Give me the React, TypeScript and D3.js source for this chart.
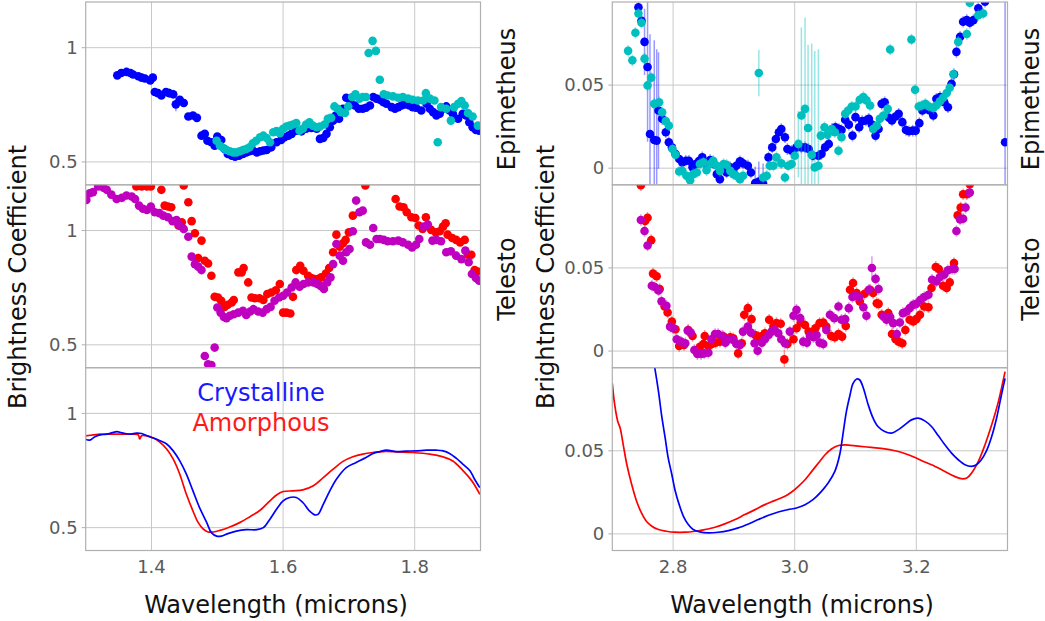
import React from "react";
import * as d3 from "d3";

type P = [number, number, number?];

// ---------- tick labels ----------
const nirXTicks = [1.4, 1.6, 1.8];
const nirXTickLabels = ["1.4", "1.6", "1.8"];
const nirYTicks = [0.5, 1];
const nirYTickLabels = ["0.5", "1"];
const midXTicks = [2.8, 3.0, 3.2];
const midXTickLabels = ["2.8", "3.0", "3.2"];
const midYTicks = [0, 0.05];
const midYTickLabels = ["0", "0.05"];

const moonNames = ["Epimetheus", "Telesto"];
const legendNames = ["Crystalline", "Amorphous"];

// ---------- Epimetheus 1.3-1.9 um ----------
const epiBlueNIR: P[] = [
  [1.348, 0.879], [1.354, 0.889], [1.362, 0.894], [1.368, 0.889], [1.372, 0.883], [1.38, 0.875], [1.385, 0.869],
  [1.39, 0.865], [1.398, 0.857], [1.402, 0.869], [1.405, 0.806], [1.41, 0.801], [1.415, 0.791], [1.422, 0.806, 0.015],
  [1.427, 0.801, 0.02], [1.433, 0.796, 0.02], [1.437, 0.752, 0.03], [1.443, 0.772], [1.449, 0.758], [1.456, 0.699],
  [1.463, 0.703], [1.469, 0.693], [1.476, 0.615], [1.481, 0.623], [1.485, 0.593], [1.491, 0.586], [1.496, 0.571],
  [1.5, 0.611], [1.506, 0.596], [1.511, 0.557], [1.516, 0.535], [1.522, 0.527], [1.527, 0.523], [1.533, 0.527],
  [1.539, 0.535], [1.544, 0.542], [1.549, 0.547], [1.554, 0.55], [1.56, 0.542], [1.565, 0.547], [1.57, 0.55],
  [1.575, 0.552], [1.582, 0.564], [1.59, 0.586], [1.597, 0.596], [1.602, 0.608], [1.608, 0.615], [1.613, 0.623],
  [1.62, 0.637], [1.628, 0.634], [1.635, 0.645], [1.643, 0.649], [1.651, 0.645], [1.656, 0.601], [1.661, 0.605],
  [1.666, 0.623], [1.671, 0.652], [1.676, 0.681], [1.68, 0.703], [1.685, 0.689], [1.691, 0.733], [1.696, 0.781],
  [1.702, 0.769], [1.709, 0.747], [1.715, 0.733], [1.721, 0.733], [1.726, 0.737], [1.732, 0.747], [1.737, 0.784],
  [1.742, 0.777], [1.747, 0.772], [1.752, 0.762], [1.757, 0.755], [1.765, 0.74], [1.77, 0.733], [1.775, 0.74],
  [1.78, 0.747], [1.785, 0.752], [1.792, 0.747], [1.797, 0.74], [1.802, 0.737], [1.81, 0.725], [1.818, 0.755],
  [1.823, 0.733], [1.828, 0.718], [1.833, 0.703], [1.838, 0.711], [1.843, 0.733], [1.848, 0.743], [1.853, 0.725],
  [1.858, 0.711], [1.866, 0.689], [1.873, 0.711], [1.878, 0.703], [1.883, 0.674], [1.888, 0.652], [1.893, 0.64],
  [1.898, 0.637],
];
const epiCyanNIR: P[] = [
  [1.499, 0.593], [1.504, 0.571], [1.509, 0.561], [1.514, 0.552], [1.519, 0.547], [1.524, 0.542], [1.529, 0.542],
  [1.534, 0.547], [1.539, 0.552], [1.544, 0.557], [1.549, 0.564], [1.554, 0.582], [1.559, 0.593], [1.565, 0.608],
  [1.57, 0.615], [1.575, 0.605], [1.58, 0.586], [1.585, 0.63], [1.59, 0.635], [1.595, 0.626], [1.6, 0.645],
  [1.605, 0.655], [1.61, 0.659], [1.615, 0.664], [1.62, 0.67], [1.625, 0.637], [1.63, 0.645], [1.635, 0.664],
  [1.64, 0.674], [1.645, 0.659], [1.651, 0.652], [1.656, 0.655], [1.663, 0.664], [1.668, 0.689], [1.673, 0.693],
  [1.678, 0.743], [1.683, 0.733], [1.688, 0.718], [1.694, 0.714], [1.699, 0.743], [1.705, 0.784], [1.71, 0.796],
  [1.716, 0.777], [1.721, 0.784], [1.726, 0.784], [1.73, 0.977], [1.736, 1.03], [1.741, 0.986], [1.747, 0.86],
  [1.753, 0.796], [1.759, 0.791], [1.767, 0.787], [1.775, 0.781], [1.782, 0.784], [1.79, 0.777], [1.797, 0.772],
  [1.805, 0.769], [1.813, 0.769], [1.817, 0.801], [1.823, 0.777], [1.83, 0.769], [1.835, 0.586], [1.84, 0.74],
  [1.848, 0.733], [1.855, 0.681], [1.86, 0.74], [1.866, 0.755], [1.871, 0.766], [1.876, 0.747], [1.881, 0.714],
  [1.888, 0.699], [1.896, 0.659],
];

// ---------- Telesto 1.3-1.9 um ----------
const telRedNIR: P[] = [
  [1.377, 1.193], [1.385, 1.193], [1.393, 1.193], [1.399, 1.193], [1.415, 1.178], [1.42, 1.109], [1.425, 1.105],
  [1.43, 1.102], [1.441, 1.022], [1.446, 1.036], [1.449, 1.197], [1.456, 1.124], [1.461, 1.041], [1.466, 0.988],
  [1.471, 0.88], [1.476, 0.956], [1.481, 0.868], [1.486, 0.856], [1.491, 0.802], [1.496, 0.71], [1.501, 0.707],
  [1.506, 0.693], [1.511, 0.666], [1.516, 0.675], [1.522, 0.685], [1.525, 0.696], [1.532, 0.817], [1.537, 0.817],
  [1.54, 0.836], [1.547, 0.773], [1.552, 0.707], [1.557, 0.704], [1.564, 0.704], [1.57, 0.696], [1.576, 0.722],
  [1.582, 0.729], [1.589, 0.739], [1.595, 0.766], [1.6, 0.641], [1.605, 0.641], [1.611, 0.637], [1.615, 0.71],
  [1.62, 0.827], [1.626, 0.846], [1.631, 0.824], [1.638, 0.802], [1.643, 0.792], [1.648, 0.788], [1.653, 0.788],
  [1.658, 0.795], [1.665, 0.812], [1.67, 0.836], [1.676, 0.905], [1.681, 0.982], [1.686, 0.929], [1.691, 0.944],
  [1.695, 0.959], [1.7, 0.992], [1.706, 1.065], [1.725, 1.197], [1.771, 1.138], [1.777, 1.105], [1.783, 1.102],
  [1.788, 1.08], [1.795, 1.058], [1.801, 1.055], [1.806, 1.022], [1.812, 1.007], [1.817, 1.058], [1.825, 1.003],
  [1.832, 0.992], [1.838, 0.997], [1.843, 1.017], [1.847, 1.032], [1.85, 0.982], [1.857, 0.967], [1.863, 0.959],
  [1.869, 0.948], [1.876, 0.959], [1.881, 0.894], [1.886, 0.894], [1.891, 0.827], [1.896, 0.821],
];
const telMagNIR: P[] = [
  [1.301, 1.134], [1.306, 1.163], [1.311, 1.168], [1.319, 1.193], [1.327, 1.187], [1.332, 1.178], [1.339, 1.157],
  [1.347, 1.138], [1.355, 1.143], [1.362, 1.153], [1.37, 1.149], [1.375, 1.138], [1.381, 1.109], [1.387, 1.095],
  [1.393, 1.09], [1.399, 1.105], [1.405, 1.08], [1.412, 1.076], [1.418, 1.065], [1.425, 1.058], [1.432, 1.041],
  [1.438, 1.046], [1.443, 1.021], [1.449, 1.007], [1.456, 0.973], [1.461, 0.886], [1.466, 0.853], [1.471, 0.842],
  [1.476, 0.827], [1.481, 0.451], [1.486, 0.415], [1.491, 0.412], [1.496, 0.488], [1.5, 0.663], [1.505, 0.641],
  [1.51, 0.622], [1.514, 0.617], [1.519, 0.627], [1.525, 0.634], [1.532, 0.641], [1.539, 0.649], [1.544, 0.631],
  [1.55, 0.646], [1.555, 0.656], [1.562, 0.646], [1.569, 0.641], [1.575, 0.656], [1.581, 0.666], [1.587, 0.693],
  [1.594, 0.707], [1.6, 0.715], [1.606, 0.729], [1.613, 0.751], [1.619, 0.773], [1.625, 0.754], [1.631, 0.766],
  [1.638, 0.773], [1.646, 0.773], [1.652, 0.766], [1.657, 0.758], [1.662, 0.744], [1.667, 0.773], [1.672, 0.795],
  [1.676, 0.853], [1.681, 0.941], [1.686, 0.89], [1.691, 0.868], [1.696, 0.905], [1.701, 0.919], [1.706, 0.997],
  [1.711, 1.131], [1.716, 1.08], [1.721, 1.087], [1.726, 0.948], [1.732, 0.938], [1.737, 1.011], [1.742, 0.963],
  [1.747, 0.963], [1.753, 0.959], [1.759, 0.953], [1.767, 0.953], [1.775, 0.956], [1.782, 0.948], [1.79, 0.938],
  [1.796, 0.926], [1.802, 0.938], [1.807, 0.963], [1.814, 1.017], [1.82, 1.026], [1.827, 0.956], [1.833, 0.959],
  [1.84, 0.953], [1.848, 0.905], [1.855, 0.909], [1.863, 0.89], [1.871, 0.875], [1.877, 0.912], [1.882, 0.861],
  [1.887, 0.81], [1.893, 0.792], [1.898, 0.78],
];

// ---------- lab spectra 1.3-1.9 um ----------
const crysNIR: P[] = [
  [1.3, 0.887], [1.306, 0.883], [1.314, 0.898], [1.322, 0.906], [1.332, 0.909], [1.342, 0.917], [1.347, 0.92],
  [1.357, 0.914], [1.367, 0.909], [1.377, 0.914], [1.385, 0.912], [1.393, 0.902], [1.403, 0.892], [1.413, 0.88],
  [1.423, 0.866], [1.433, 0.836], [1.443, 0.792], [1.453, 0.734], [1.463, 0.661], [1.473, 0.588], [1.484, 0.522],
  [1.491, 0.478], [1.499, 0.463], [1.506, 0.463], [1.516, 0.474], [1.529, 0.485], [1.544, 0.491], [1.56, 0.491],
  [1.57, 0.5], [1.58, 0.537], [1.59, 0.58], [1.6, 0.617], [1.61, 0.632], [1.62, 0.632], [1.63, 0.61], [1.64, 0.573],
  [1.648, 0.556], [1.653, 0.558], [1.661, 0.602], [1.671, 0.661], [1.681, 0.712], [1.696, 0.763], [1.711, 0.785],
  [1.726, 0.807], [1.737, 0.825], [1.747, 0.833], [1.757, 0.839], [1.772, 0.833], [1.787, 0.835], [1.802, 0.836],
  [1.818, 0.839], [1.833, 0.839], [1.843, 0.836], [1.853, 0.825], [1.863, 0.804], [1.873, 0.778], [1.884, 0.749],
  [1.891, 0.712], [1.899, 0.675],
];
const amorNIR: P[] = [
  [1.3, 0.902], [1.312, 0.906], [1.322, 0.909], [1.342, 0.909], [1.367, 0.909], [1.38, 0.906], [1.382, 0.888],
  [1.385, 0.902], [1.393, 0.902], [1.403, 0.892], [1.413, 0.873], [1.423, 0.844], [1.433, 0.8], [1.443, 0.734],
  [1.453, 0.646], [1.463, 0.573], [1.471, 0.522], [1.479, 0.493], [1.486, 0.481], [1.494, 0.481], [1.504, 0.488],
  [1.519, 0.503], [1.534, 0.522], [1.549, 0.547], [1.565, 0.576], [1.58, 0.617], [1.59, 0.643], [1.6, 0.658],
  [1.615, 0.661], [1.63, 0.665], [1.646, 0.683], [1.661, 0.719], [1.676, 0.756], [1.691, 0.79], [1.706, 0.81],
  [1.721, 0.822], [1.737, 0.829], [1.752, 0.833], [1.772, 0.832], [1.797, 0.829], [1.823, 0.822], [1.843, 0.81],
  [1.858, 0.792], [1.873, 0.751], [1.883, 0.719], [1.891, 0.687], [1.899, 0.646],
];

// ---------- Epimetheus 2.7-3.35 um ----------
const epiBlueMIR: P[] = [
  [2.743, 0.0968], [2.748, 0.0887], [2.753, 0.076, 0.02], [2.758, 0.0609, 0.045], [2.762, 0.0206, 0.06],
  [2.769, 0.017, 0.06], [2.773, 0.0166, 0.055], [2.776, 0.0347, 0.035], [2.782, 0.0297], [2.788, 0.0216],
  [2.793, 0.0156], [2.798, 0.0125], [2.804, 0.0085], [2.81, 0.0055], [2.815, 0.0035], [2.821, 0.0045],
  [2.826, 0.0045], [2.832, 0.0005], [2.837, 0.0025], [2.843, 0.0045], [2.848, 0.0065], [2.855, 0.0021],
  [2.861, 0.0049], [2.866, 0.0029], [2.872, -0.0036], [2.877, -0.0066], [2.883, -0.0006], [2.888, -0.0026],
  [2.894, 0.0005], [2.899, -0.0016], [2.904, 0.0015], [2.91, 0.0041], [2.915, 0.0029], [2.923, 0.0015],
  [2.928, -0.0026], [2.935, -0.009, 0.01], [2.941, -0.008, 0.012], [2.948, -0.0092, 0.012], [2.957, 0.0065],
  [2.963, 0.0125], [2.969, 0.0176], [2.974, 0.0216], [2.978, 0.0236], [2.984, 0.0186], [2.988, 0.0115],
  [2.995, 0.0105], [3.003, 0.0125], [3.011, 0.0125], [3.017, 0.0125], [3.023, 0.0115], [3.03, 0.0075],
  [3.039, 0.0075], [3.044, 0.0085], [3.05, 0.0125], [3.056, 0.0146], [3.062, 0.0236], [3.067, 0.0246],
  [3.073, 0.0236], [3.077, 0.023], [3.083, 0.0291], [3.089, 0.0262], [3.095, 0.0196], [3.1, 0.0307],
  [3.106, 0.0246], [3.111, 0.0283], [3.117, 0.0287], [3.122, 0.0297], [3.127, 0.0262], [3.133, 0.0196],
  [3.138, 0.0236], [3.143, 0.0387], [3.148, 0.0397], [3.155, 0.0303], [3.16, 0.0287], [3.166, 0.0311],
  [3.171, 0.0327], [3.177, 0.0277], [3.183, 0.023], [3.188, 0.0222], [3.194, 0.0226], [3.199, 0.0226],
  [3.205, 0.0271], [3.21, 0.0347], [3.216, 0.0363], [3.222, 0.0347], [3.228, 0.0317], [3.233, 0.0418],
  [3.239, 0.0428], [3.246, 0.0397], [3.252, 0.0367], [3.258, 0.0508], [3.262, 0.0565], [3.266, 0.07],
  [3.272, 0.079], [3.277, 0.0881], [3.283, 0.0891], [3.288, 0.0875], [3.294, 0.0891], [3.302, 0.0962],
  [3.313, 0.1002], [3.346, 0.0156, 0.12],
];
const epiCyanMIR: P[] = [
  [2.726, 0.0706], [2.733, 0.0649], [2.738, 0.0815], [2.743, 0.0931], [2.748, 0.0875], [2.753, 0.0659],
  [2.758, 0.0498], [2.764, 0.0545], [2.769, 0.0387], [2.777, 0.0397], [2.782, 0.0337], [2.788, 0.0283],
  [2.793, 0.0256], [2.799, 0.0115], [2.804, 0.0081], [2.81, -0.002], [2.815, -0.0016], [2.822, -0.0046],
  [2.828, -0.0072], [2.833, -0.0036], [2.839, -0.0026], [2.844, 0.0025], [2.85, 0.0035], [2.855, -0.0012],
  [2.861, 0.0025], [2.866, 0.0045], [2.872, 0.0015], [2.877, -0.0016], [2.883, 0.0025], [2.888, 0.0021],
  [2.894, -0.0016], [2.899, -0.0036], [2.904, -0.0046], [2.91, -0.0066], [2.915, -0.0046], [2.941, 0.0573, 0.014],
  [2.948, -0.0056], [2.954, -0.0046], [2.959, 0.0015], [2.965, 0.0015], [2.97, 0.0065], [2.978, 0.0029],
  [2.984, -0.0056], [2.989, 0.0015], [2.995, 0.0025], [3.0, 0.0075], [3.006, 0.0146, 0.02], [3.011, 0.0317, 0.053],
  [3.017, 0.0357, 0.055], [3.022, 0.0242, 0.05], [3.028, 0.0081, 0.067], [3.033, 0.0005, 0.07], [3.039, 0.0015, 0.07],
  [3.043, 0.0196], [3.049, 0.0246], [3.054, 0.0202], [3.061, 0.0236], [3.066, 0.0216], [3.072, 0.0105],
  [3.077, 0.0186], [3.083, 0.0327], [3.088, 0.0347], [3.094, 0.0371], [3.1, 0.0371], [3.107, 0.0412],
  [3.113, 0.0428], [3.118, 0.0408], [3.124, 0.0377], [3.129, 0.0236], [3.135, 0.0256], [3.14, 0.0297],
  [3.146, 0.0317], [3.153, 0.0357], [3.157, 0.0714], [3.192, 0.0774], [3.198, 0.0472], [3.204, 0.0371],
  [3.209, 0.0377], [3.215, 0.0387], [3.221, 0.0371], [3.228, 0.0363], [3.233, 0.0377], [3.239, 0.0403],
  [3.244, 0.0424], [3.25, 0.0452], [3.255, 0.0484], [3.261, 0.0565], [3.269, 0.076], [3.283, 0.0807],
  [3.288, 0.0996], [3.302, 0.0921], [3.31, 0.0931],
];

// ---------- Telesto 2.7-3.35 um ----------
const telRedMIR: P[] = [
  [2.747, 0.0998], [2.754, 0.0782], [2.758, 0.0802], [2.764, 0.0667], [2.767, 0.0466], [2.773, 0.045],
  [2.778, 0.0373], [2.786, 0.0268], [2.791, 0.0232], [2.798, 0.0178], [2.804, 0.0131], [2.81, 0.0031],
  [2.818, 0.0037], [2.825, 0.0127], [2.832, 0.0091], [2.839, -0.0004], [2.844, 0.0026], [2.85, 0.0043],
  [2.852, 0.0091], [2.858, 0.0031], [2.864, 0.0043], [2.87, 0.0051], [2.877, 0.0057], [2.883, 0.0087],
  [2.888, 0.0071], [2.894, 0.0083], [2.899, 0.0077], [2.907, -0.0014], [2.913, 0.0047], [2.917, 0.0218],
  [2.923, 0.0258], [2.929, 0.0192], [2.935, 0.0097], [2.94, 0.0087], [2.946, 0.0091], [2.951, 0.0107],
  [2.958, 0.0188], [2.965, 0.0147], [2.97, 0.0168], [2.977, 0.0164], [2.983, -0.005, 0.006], [2.988, 0.0043],
  [2.998, 0.0071], [3.003, 0.0137], [3.01, 0.0172], [3.017, 0.0157], [3.023, 0.0117], [3.029, 0.0103],
  [3.034, 0.0137], [3.041, 0.0168], [3.047, 0.0172], [3.052, 0.0147], [3.06, 0.0091], [3.066, 0.0083],
  [3.072, 0.0103], [3.078, 0.0087], [3.084, 0.0151], [3.091, 0.0369], [3.096, 0.0409], [3.102, 0.0349],
  [3.107, 0.0299], [3.115, 0.0345], [3.124, 0.0369], [3.129, 0.0349], [3.135, 0.0288], [3.138, 0.0284],
  [3.143, 0.0218], [3.148, 0.0208], [3.154, 0.0228], [3.16, 0.0103], [3.166, 0.0071], [3.171, 0.0057],
  [3.177, 0.0047], [3.182, 0.0127], [3.189, 0.0188], [3.195, 0.0178], [3.2, 0.0192], [3.206, 0.0218],
  [3.213, 0.0268], [3.22, 0.0264], [3.225, 0.0379], [3.232, 0.0506], [3.237, 0.0494], [3.244, 0.0393],
  [3.25, 0.0379], [3.255, 0.0413], [3.262, 0.053], [3.268, 0.0816], [3.273, 0.0863], [3.277, 0.0943],
  [3.283, 0.0943], [3.288, 0.1004],
];
const telMagMIR: P[] = [
  [2.747, 0.0788], [2.753, 0.0722], [2.758, 0.0635], [2.765, 0.0393], [2.77, 0.0385], [2.776, 0.0365],
  [2.781, 0.0299], [2.789, 0.0272], [2.795, 0.0147], [2.8, 0.0137], [2.806, 0.0071], [2.813, 0.0057],
  [2.82, 0.0047], [2.824, 0.0123], [2.829, 0.0111], [2.835, 0.0006], [2.84, -0.0018], [2.846, -0.0018],
  [2.851, -0.0014], [2.858, -0.001], [2.863, 0.0071], [2.869, 0.0103], [2.874, 0.0103], [2.881, 0.0091],
  [2.886, 0.0051], [2.892, 0.0071], [2.899, 0.0067], [2.904, 0.0043], [2.91, 0.0037], [2.915, 0.0117],
  [2.923, 0.0147], [2.928, 0.0111], [2.934, 0.0047], [2.939, 0.0002], [2.946, 0.0051], [2.951, 0.0071],
  [2.957, 0.0097], [2.962, 0.0117], [2.967, 0.0127], [2.973, 0.0107], [2.978, 0.0071], [2.984, 0.0047],
  [2.992, 0.0117], [2.998, 0.0212], [3.003, 0.0248], [3.009, 0.0198], [3.014, 0.0057], [3.02, 0.0051],
  [3.025, 0.0091], [3.031, 0.0083], [3.036, 0.0097], [3.041, 0.0051], [3.047, 0.0043], [3.052, 0.0127],
  [3.058, 0.0218], [3.065, 0.0198], [3.072, 0.0268], [3.077, 0.0188], [3.083, 0.0192], [3.089, 0.0258],
  [3.095, 0.0325], [3.1, 0.0333], [3.106, 0.0325], [3.113, 0.0264], [3.118, 0.0212], [3.122, 0.0369],
  [3.127, 0.05, 0.007], [3.133, 0.0434], [3.138, 0.0373], [3.146, 0.0208], [3.151, 0.0188], [3.157, 0.0204],
  [3.162, 0.0168], [3.168, 0.0103], [3.173, 0.0172], [3.178, 0.0228], [3.184, 0.0238], [3.189, 0.0258],
  [3.195, 0.0278], [3.2, 0.0284], [3.207, 0.0309], [3.213, 0.0325], [3.22, 0.0339], [3.226, 0.0429],
  [3.233, 0.0419], [3.239, 0.0446], [3.246, 0.046], [3.252, 0.0486], [3.259, 0.0494], [3.263, 0.0494],
  [3.266, 0.0722], [3.272, 0.0792], [3.277, 0.0796], [3.281, 0.0863], [3.288, 0.0953],
];

// ---------- lab spectra 2.7-3.35 um ----------
const crysMIR: P[] = [
  [2.765, 0.1096], [2.77, 0.0996], [2.776, 0.0856], [2.781, 0.0716], [2.787, 0.0576], [2.792, 0.0456],
  [2.798, 0.0356], [2.803, 0.0266], [2.81, 0.0176], [2.817, 0.0106], [2.825, 0.0056], [2.833, 0.0026],
  [2.844, 0.0012], [2.858, 0.0006], [2.874, 0.001], [2.891, 0.002], [2.907, 0.0036], [2.924, 0.006],
  [2.94, 0.0086], [2.957, 0.0112], [2.973, 0.0132], [2.989, 0.0146], [3.003, 0.0156], [3.017, 0.0176],
  [3.03, 0.0206], [3.044, 0.0256], [3.055, 0.0306], [3.066, 0.0376], [3.074, 0.0476], [3.08, 0.0616],
  [3.085, 0.0736], [3.091, 0.0836], [3.096, 0.0906], [3.102, 0.0932], [3.107, 0.0926], [3.113, 0.0876],
  [3.121, 0.0776], [3.129, 0.0696], [3.137, 0.0646], [3.148, 0.0616], [3.159, 0.0606], [3.17, 0.0626],
  [3.181, 0.0656], [3.192, 0.0686], [3.203, 0.0696], [3.214, 0.068], [3.225, 0.0646], [3.236, 0.0592],
  [3.247, 0.0536], [3.258, 0.0486], [3.269, 0.0446], [3.28, 0.0416], [3.291, 0.0406], [3.299, 0.0416],
  [3.307, 0.0446], [3.315, 0.0496], [3.324, 0.0586], [3.332, 0.0696], [3.34, 0.0836], [3.346, 0.0936],
];
const amorMIR: P[] = [
  [2.7, 0.0906], [2.704, 0.0776], [2.709, 0.0676], [2.713, 0.0636], [2.718, 0.0536], [2.724, 0.0416],
  [2.732, 0.0296], [2.74, 0.0196], [2.748, 0.0126], [2.756, 0.0076], [2.765, 0.0046], [2.776, 0.0026],
  [2.789, 0.0016], [2.803, 0.001], [2.82, 0.001], [2.836, 0.0016], [2.852, 0.0026], [2.869, 0.004],
  [2.885, 0.006], [2.902, 0.0086], [2.918, 0.0116], [2.935, 0.0146], [2.951, 0.0176], [2.967, 0.02],
  [2.984, 0.0226], [2.995, 0.0252], [3.006, 0.0286], [3.017, 0.0326], [3.028, 0.0376], [3.039, 0.0426],
  [3.05, 0.0476], [3.061, 0.0512], [3.072, 0.0532], [3.083, 0.0536], [3.104, 0.0528], [3.126, 0.052],
  [3.148, 0.0512], [3.165, 0.05], [3.181, 0.0484], [3.198, 0.046], [3.214, 0.0432], [3.231, 0.0406],
  [3.247, 0.0376], [3.263, 0.0346], [3.274, 0.0332], [3.283, 0.0336], [3.291, 0.0366], [3.302, 0.0436],
  [3.313, 0.0536], [3.324, 0.0656], [3.335, 0.0796], [3.346, 0.0976],
];

// ---------- styling ----------
const FONT = "'DejaVu Sans', sans-serif";
const BLUE = "#0000ff";
const CYAN = "#00bfbf";
const RED = "#ff0000";
const MAG = "#bf00bf";
const FRAME = "#b0b0b0";
const GRID = "#c8c8c8";
const TICKTXT = "#5a5a5a";

const ROWS: [number, number][] = [[2, 184.8], [184.8, 367.7], [367.7, 550.5]];
const COLS = [
  { x0: 85.7, x1: 480.5, xDomain: [1.3, 1.9], xTicks: nirXTicks, xLabels: nirXTickLabels, yDomain: [0.4, 1.2], yTicks: nirYTicks, yLabels: nirYTickLabels, defErr: 0 },
  { x0: 612.3, x1: 1007.5, xDomain: [2.7, 3.35], xTicks: midXTicks, xLabels: midXTickLabels, yDomain: [-0.01, 0.1], yTicks: midYTicks, yLabels: midYTickLabels, defErr: 0.0035 },
];

type Series = { data: P[]; color: string; kind: "dots" | "line" };

function Panel({ col, row, series, id }: { col: number; row: number; series: Series[]; id: string }) {
  const c = COLS[col];
  const [y0, y1] = ROWS[row];
  const x = d3.scaleLinear().domain(c.xDomain).range([c.x0, c.x1]);
  const y = d3.scaleLinear().domain(c.yDomain).range([y1, y0]);
  const line = d3.line<P>().x((d) => x(d[0])).y((d) => y(d[1])).curve(d3.curveCatmullRom.alpha(0.5));
  return (
    <g>
      <defs>
        <clipPath id={id}>
          <rect x={c.x0} y={y0} width={c.x1 - c.x0} height={y1 - y0} />
        </clipPath>
      </defs>
      {c.xTicks.map((t) => (
        <line key={"gx" + t} x1={x(t)} x2={x(t)} y1={y0} y2={y1} stroke={GRID} strokeWidth={1} />
      ))}
      {c.yTicks.map((t) => (
        <line key={"gy" + t} x1={c.x0} x2={c.x1} y1={y(t)} y2={y(t)} stroke={GRID} strokeWidth={1} />
      ))}
      <g clipPath={`url(#${id})`}>
        {series.map((s, si) =>
          s.kind === "line" ? (
            <path key={si} d={line(s.data) || ""} fill="none" stroke={s.color} strokeWidth={1.7} />
          ) : (
            <g key={si}>
              {s.data.map((d, i) => {
                const e = d[2] !== undefined ? d[2] : c.defErr;
                return e > 0 ? (
                  <line key={"e" + i} x1={x(d[0])} x2={x(d[0])} y1={y(d[1] - e)} y2={y(d[1] + e)} stroke={s.color} strokeOpacity={0.4} strokeWidth={1.5} />
                ) : null;
              })}
              {s.data.map((d, i) => (
                <circle key={"p" + i} cx={x(d[0])} cy={y(d[1])} r={4.3} fill={s.color} />
              ))}
            </g>
          )
        )}
      </g>
      <rect x={c.x0} y={y0} width={c.x1 - c.x0} height={y1 - y0} fill="none" stroke={FRAME} strokeWidth={1.2} />
      {c.yTicks.map((t, i) => (
        <g key={"ty" + t}>
          <line x1={c.x0 - 4} x2={c.x0} y1={y(t)} y2={y(t)} stroke={FRAME} strokeWidth={1} />
          <text x={c.x0 - 8} y={y(t)} dy="0.35em" textAnchor="end" fontSize={18} fill={TICKTXT} fontFamily={FONT}>
            {c.yLabels[i]}
          </text>
        </g>
      ))}
      {row === 2 &&
        c.xTicks.map((t, i) => (
          <text key={"tx" + t} x={x(t)} y={573} textAnchor="middle" fontSize={18} fill={TICKTXT} fontFamily={FONT}>
            {c.xLabels[i]}
          </text>
        ))}
    </g>
  );
}

export default function App() {
  return (
    <svg width={1045} height={621} style={{ position: "absolute", left: 0, top: 0, background: "#fff" }} fontFamily={FONT}>
      <rect width={1045} height={621} fill="#fff" />
      <Panel col={0} row={0} id="c00" series={[{ data: epiBlueNIR, color: BLUE, kind: "dots" }, { data: epiCyanNIR, color: CYAN, kind: "dots" }]} />
      <Panel col={0} row={1} id="c01" series={[{ data: telRedNIR, color: RED, kind: "dots" }, { data: telMagNIR, color: MAG, kind: "dots" }]} />
      <Panel col={0} row={2} id="c02" series={[{ data: amorNIR, color: RED, kind: "line" }, { data: crysNIR, color: BLUE, kind: "line" }]} />
      <Panel col={1} row={0} id="c10" series={[{ data: epiBlueMIR, color: BLUE, kind: "dots" }, { data: epiCyanMIR, color: CYAN, kind: "dots" }]} />
      <Panel col={1} row={1} id="c11" series={[{ data: telRedMIR, color: RED, kind: "dots" }, { data: telMagMIR, color: MAG, kind: "dots" }]} />
      <Panel col={1} row={2} id="c12" series={[{ data: amorMIR, color: RED, kind: "line" }, { data: crysMIR, color: BLUE, kind: "line" }]} />

      <text x={261} y={401} textAnchor="middle" fontSize={24} fill="#1a1aff">{legendNames[0]}</text>
      <text x={261} y={431} textAnchor="middle" fontSize={24} fill="#ff1a1a">{legendNames[1]}</text>

      <text transform="translate(26,277) rotate(-90)" textAnchor="middle" fontSize={24} fill="#111">Brightness Coefficient</text>
      <text transform="translate(554,277) rotate(-90)" textAnchor="middle" fontSize={24} fill="#111">Brightness Coefficient</text>

      <text transform="translate(515,99) rotate(-90)" textAnchor="middle" fontSize={24} fill="#111">{moonNames[0]}</text>
      <text transform="translate(515,279) rotate(-90)" textAnchor="middle" fontSize={24} fill="#111">{moonNames[1]}</text>
      <text transform="translate(1039,99) rotate(-90)" textAnchor="middle" fontSize={24} fill="#111">{moonNames[0]}</text>
      <text transform="translate(1039,279) rotate(-90)" textAnchor="middle" fontSize={24} fill="#111">{moonNames[1]}</text>

      <text x={276} y={613} textAnchor="middle" fontSize={24} fill="#111">Wavelength (microns)</text>
      <text x={802} y={613} textAnchor="middle" fontSize={24} fill="#111">Wavelength (microns)</text>
    </svg>
  );
}
